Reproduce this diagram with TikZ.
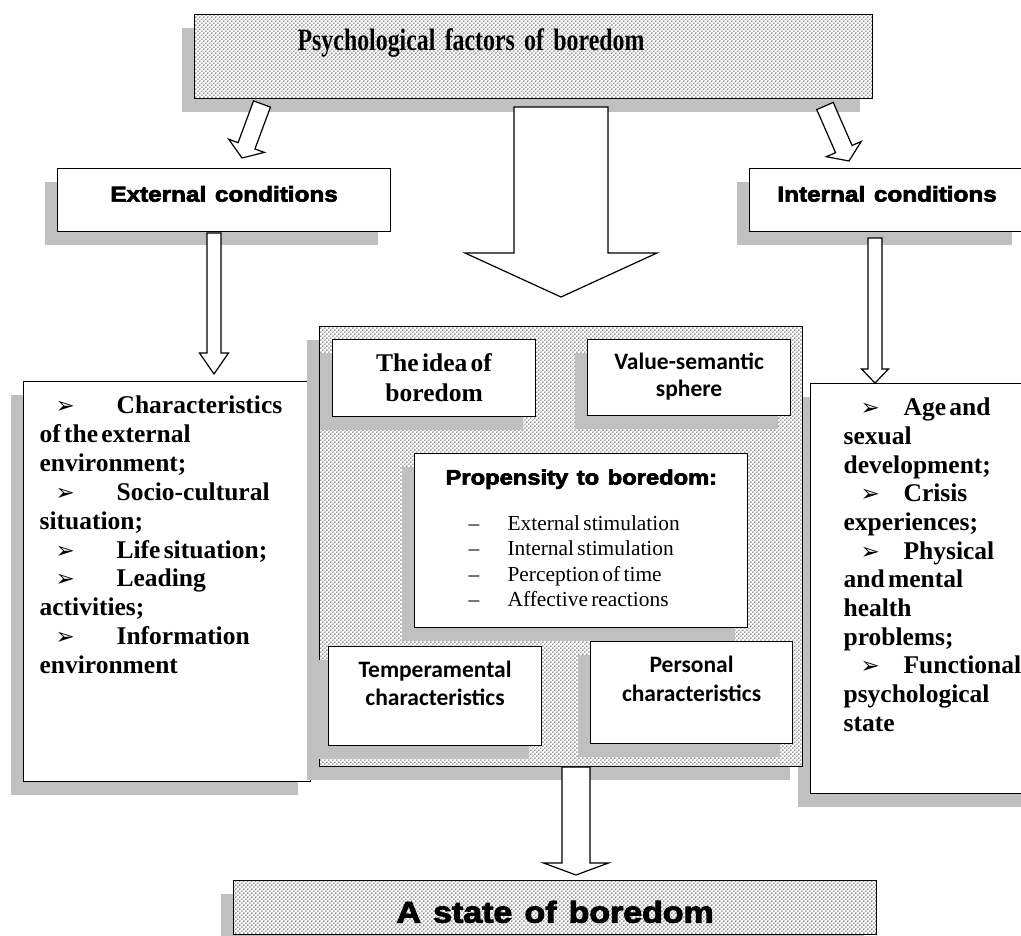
\documentclass[tikz,border=0pt]{standalone}
\usepackage{fontspec}
\usepackage{graphicx}
\usepackage{xcolor}
\usepackage{tikz}
\usetikzlibrary{positioning, calc, shadows, patterns}

\setmainfont{Liberation Serif}
\newfontfamily\calibrifont{Carlito}
\newfontface\heavyfont{Liberation Sans Bold}[FakeBold=3]
\newfontfamily\dingfont{DejaVu Sans}
\definecolor{shadowgrey}{RGB}{192,192,192}

% staggered dots like the word-processor fill
\pgfdeclarepatternformonly{speckle}{\pgfpointorigin}{\pgfpoint{4.4pt}{4.4pt}}{\pgfpoint{4.4pt}{4.4pt}}{%
  \pgfpathcircle{\pgfpoint{1.1pt}{1.1pt}}{0.8pt}%
  \pgfpathcircle{\pgfpoint{3.3pt}{3.3pt}}{0.8pt}%
  \pgfusepath{fill}}

% heavy sans labels (size, text)
\newcommand{\heavy}[2]{{\heavyfont\fontsize{#1}{#1}\selectfont\spaceskip=0.36em\relax\scalebox{1.13}[1]{#2}}}
% list pointer (indent, gap)
\newcommand{\pointer}[2]{\hspace*{#1}\makebox[#2][l]{\dingfont\fontsize{23}{23}\selectfont ➢}}
% block arrow (tail, tip, half shaft, half head, head length)
\newcommand{\blockarrow}[5]{%
  \coordinate (ba-h) at ($(#2)!#5!(#1)$);
  \draw[barrow] ($(#1)!#3!90:(#2)$) -- ($(ba-h)!#3!-90:(#1)$)
    -- ($(ba-h)!#4!-90:(#1)$) -- (#2) -- ($(ba-h)!#4!90:(#1)$)
    -- ($(ba-h)!#3!90:(#1)$) -- ($(#1)!#3!-90:(#2)$) -- cycle;}

\begin{document}
\begin{tikzpicture}[
    x=1pt, y=-1pt,
    box/.style={draw, line width=1.2pt, fill=white, anchor=north west, inner sep=0pt, align=center,
      drop shadow={shadow xshift=-13pt, shadow yshift=-13pt, fill=shadowgrey, draw=none, opacity=1}},
    dotbox/.style={box, postaction={pattern=speckle, pattern color=black!90}},
    listbox/.style={box, align=left},
    barrow/.style={draw, line width=1.2pt, fill=white, line join=miter}
]
    \useasboundingbox (0,0) rectangle (1021,936);
    \clip (0,0) rectangle (1021,936);

    % Nodes
    \node[dotbox, text width=678pt, text height=36pt, text depth=48pt, align=left] (title) at (194,14)
        {\hspace*{103pt}{\fontsize{31}{31}\selectfont\bfseries
         \scalebox{0.77}[1]{Psychological\hspace{12pt}factors\hspace{12pt}of\hspace{12pt}boredom}}\par};
    \node[box, text width=333pt, text height=33pt, text depth=30pt] (ext) at (57,168) {\heavy{21.5}{External conditions}};
    \node[box, text width=275pt, text height=33pt, text depth=30pt] (int) at (749,168) {\heavy{21.5}{Internal conditions}};

    \node[listbox, text width=287pt, text height=32pt, text depth=368pt] (extlist) at (23,381)
        {\fontsize{25.5}{28.9}\selectfont\bfseries\leftskip=16pt\relax
         \pointer{16pt}{61pt}Characteristics\\
         of the external\\
         environment;\\
         \pointer{16pt}{61pt}Socio-cultural\\
         situation;\\
         \pointer{16pt}{61pt}Life situation;\\
         \pointer{16pt}{61pt}Leading\\
         activities;\\
         \pointer{16pt}{61pt}Information\\
         environment\par};
    \node[listbox, text width=230pt, text height=32pt, text depth=378pt] (intlist) at (810,383)
        {\fontsize{25.5}{28.7}\selectfont\bfseries\leftskip=33pt\relax
         \pointer{17pt}{43pt}Age and\\
         sexual\\
         development;\\
         \pointer{17pt}{43pt}Crisis\\
         experiences;\\
         \pointer{17pt}{43pt}Physical\\
         and mental\\
         health\\
         problems;\\
         \pointer{17pt}{43pt}Functional\\
         psychological\\
         state\par};

    \node[dotbox, minimum width=483pt, minimum height=440pt] (core) at (319,326) {};
    \node[box, text width=203pt, text height=32pt, text depth=45pt] (idea) at (332,339)
        {\fontsize{25.5}{30}\selectfont\bfseries The idea of\\ boredom\par};
    \node[box, text width=203pt, text height=30pt, text depth=46pt] (value) at (587,339)
        {\calibrifont\bfseries\fontsize{23.5}{27}\selectfont Value-semantic\\ sphere\par};
    \node[listbox, text width=333pt, text height=31pt, text depth=143pt] (propensity) at (414,453)
        {\fontsize{21.4}{25.3}\selectfont
         \hspace*{31pt}\heavy{21}{Propensity to boredom:}\\[20.7pt]
         \hspace*{54pt}\makebox[39pt][l]{--}External stimulation\\
         \hspace*{54pt}\makebox[39pt][l]{--}Internal stimulation\\
         \hspace*{54pt}\makebox[39pt][l]{--}Perception of time\\
         \hspace*{54pt}\makebox[39pt][l]{--}Affective reactions\par};
    \node[box, text width=213pt, text height=31pt, text depth=68pt] (temper) at (328,646)
        {\calibrifont\bfseries\fontsize{23.5}{28}\selectfont Temperamental\\ characteristics\par};
    \node[box, text width=202pt, text height=31pt, text depth=71pt] (personal) at (590,641)
        {\calibrifont\bfseries\fontsize{23.5}{29}\selectfont Personal\\ characteristics\par};

    \node[dotbox, text width=643pt, text height=42pt, text depth=12pt] (state) at (233,880) {\heavy{30}{A state of boredom}};

    % Connections
    \coordinate (title-ext) at (262,104);
    \coordinate (ext-in) at (242,158);
    \coordinate (title-int) at (825,106);
    \coordinate (int-in) at (849,161);
    \coordinate (title-core) at (561,107);
    \coordinate (core-in) at (561,297);
    \coordinate (ext-out) at (214,233);
    \coordinate (extlist-in) at (214,374);
    \coordinate (int-out) at (875,238);
    \coordinate (intlist-in) at (875,383);
    \coordinate (core-out) at (576,767);
    \coordinate (state-in) at (576,875);

    \blockarrow{title-ext}{ext-in}{9pt}{19pt}{13pt}
    \blockarrow{title-int}{int-in}{9pt}{19pt}{13pt}
    \blockarrow{title-core}{core-in}{47pt}{96pt}{44pt}
    \blockarrow{ext-out}{extlist-in}{7pt}{14.5pt}{21pt}
    \blockarrow{int-out}{intlist-in}{7pt}{13.5pt}{14pt}
    \blockarrow{core-out}{state-in}{14pt}{32.5pt}{12pt}
\end{tikzpicture}
\end{document}
